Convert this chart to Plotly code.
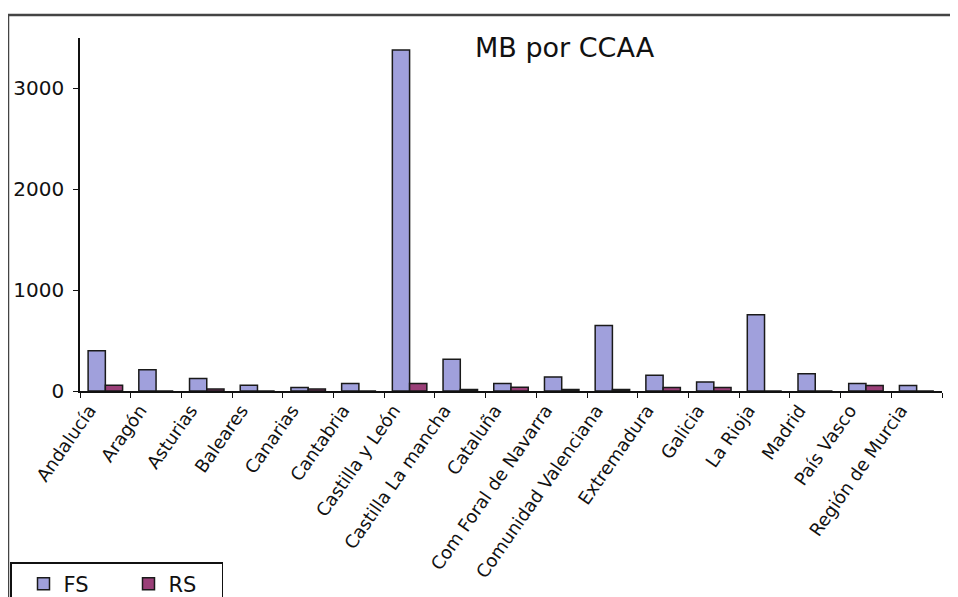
import plotly.graph_objects as go

categories = ["Andalucía", "Aragón", "Asturias", "Baleares", "Canarias", "Cantabria",
              "Castilla y León", "Castilla La mancha", "Cataluña", "Com Foral de Navarra",
              "Comunidad Valenciana", "Extremadura", "Galicia", "La Rioja", "Madrid",
              "País Vasco", "Región de Murcia"]
fs_values = [400, 210, 125, 57, 35, 75, 3380, 315, 75, 140, 650, 155, 90, 755, 172, 75, 55]
rs_values = [57, 0, 20, 0, 20, 0, 75, 15, 37, 15, 15, 35, 35, 0, 0, 55, 0]
y_ticks = [0, 1000, 2000, 3000]

FONT = "DejaVu Sans"

# page-pixel helpers (plot area: x 80..942, y 38..391 in page pixels)
def px(x):
    return (x - 80) / 862

def py(y):
    return (391 - y) / 353

fig = go.Figure()
fig.add_trace(go.Bar(name="FS", x=categories, y=fs_values,
                     marker=dict(color="#a0a0dc", line=dict(color="#1a1a1a", width=1.5))))
fig.add_trace(go.Bar(name="RS", x=categories, y=rs_values,
                     marker=dict(color="#9a3f78", line=dict(color="#1a1a1a", width=1.5))))

fig.update_layout(
    width=950, height=597,
    margin=dict(l=72, r=16, t=30, b=214, autoexpand=False),
    paper_bgcolor="white", plot_bgcolor="white",
    font=dict(family=FONT, size=18, color="#111"),
    barmode="group", bargap=0.32, bargroupgap=0,
    showlegend=True,
    legend=dict(orientation="h", x=px(10), xanchor="left", y=py(562), yanchor="top",
                bordercolor="#111", borderwidth=1.5, bgcolor="white",
                font=dict(size=21, family=FONT), entrywidth=48, entrywidthmode="pixels",
                itemwidth=30, indentation=12),
    xaxis=dict(type="category", showline=True, linecolor="#111", linewidth=1.5,
               ticks="outside", tickson="boundaries", ticklen=5, tickcolor="#111",
               tickangle=-55, tickfont=dict(size=18, family=FONT), showgrid=False,
               ticklabelshift=-16),
    yaxis=dict(range=[0, 3500], tickvals=y_ticks, showline=True, linecolor="#111",
               linewidth=1.5, ticks="outside", ticklen=5, tickcolor="#111",
               tickfont=dict(size=20, family=FONT), showgrid=False, zeroline=False,
               ticklabelstandoff=5),
    annotations=[dict(text="MB por CCAA", xref="paper", yref="paper",
                      x=px(565), y=py(47), xanchor="center", yanchor="middle",
                      showarrow=False, font=dict(size=27, family=FONT, color="#111"))],
    shapes=[
        dict(type="line", xref="paper", yref="paper", x0=px(8), x1=px(970),
             y0=py(15), y1=py(15), line=dict(color="#444", width=2.5)),
        dict(type="line", xref="paper", yref="paper", x0=px(8), x1=px(8),
             y0=py(15), y1=py(620), line=dict(color="#444", width=2.5)),
    ],
)

fig.write_html("out.html")
